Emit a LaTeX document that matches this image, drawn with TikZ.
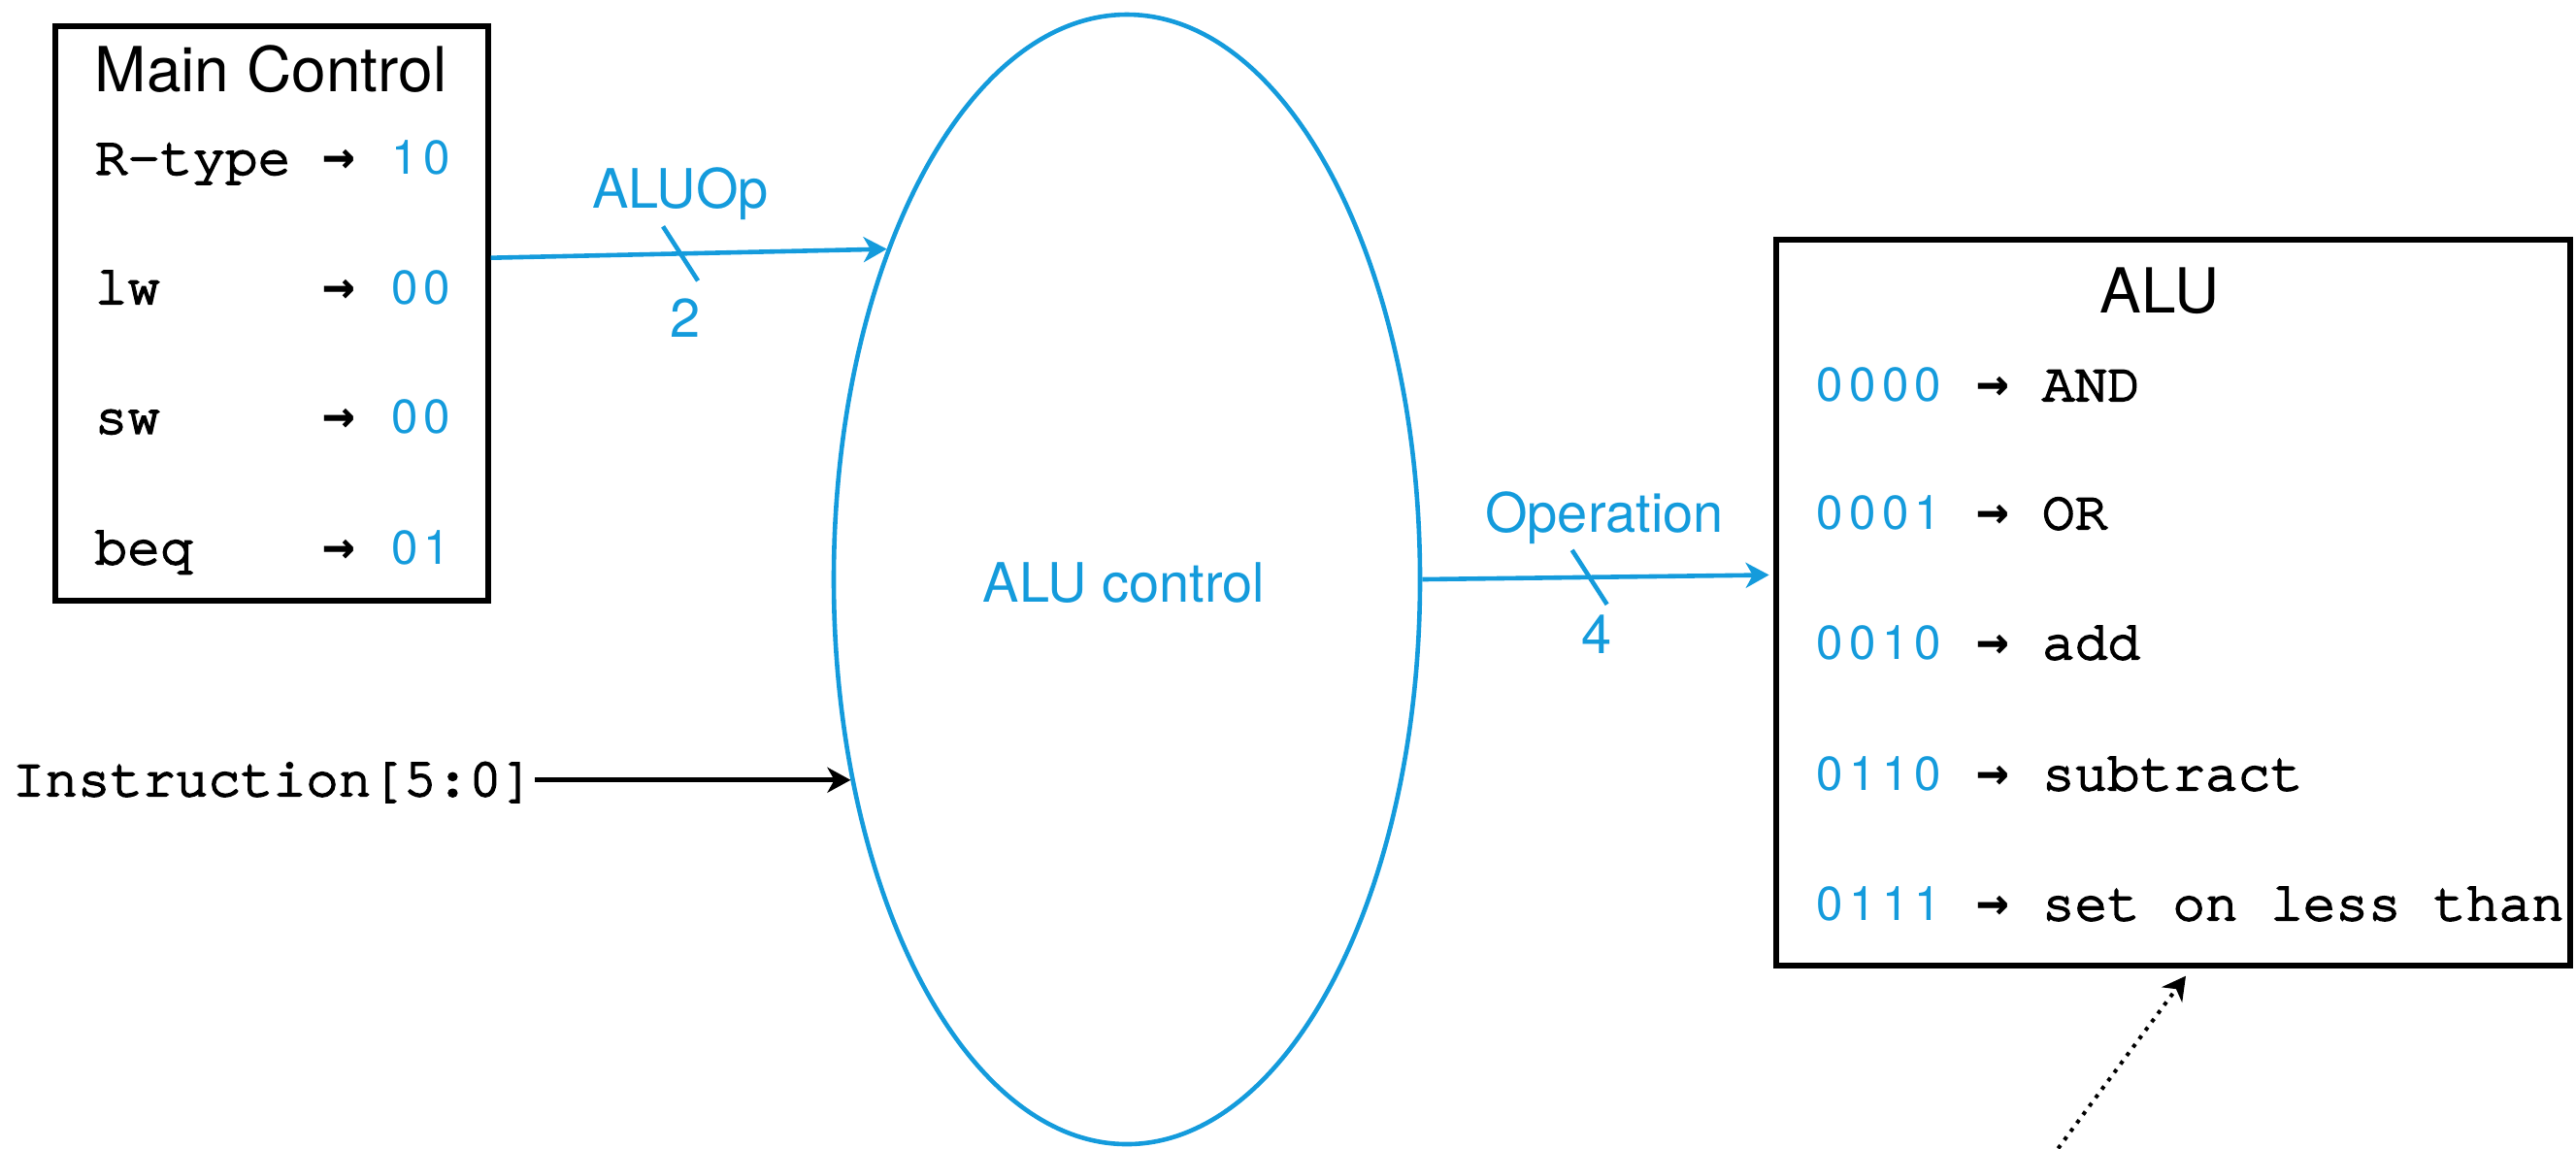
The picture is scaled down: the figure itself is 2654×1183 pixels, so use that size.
\documentclass[tikz,border=0pt]{standalone}
\usepackage{fontspec}
\setmainfont{TeX Gyre Heros}
\newfontfamily\monofont{TeX Gyre Cursor}[FakeBold=3.5]
\newfontfamily\arrowfont{DejaVu Sans Mono}
\usetikzlibrary{arrows.meta,shapes.geometric,calc}
\definecolor{cblue}{RGB}{20,155,220}
\newlength\cw
\setlength\cw{8.4pt}
\newcommand\bd[1]{\makebox[\cw][c]{\fontsize{12.3}{12}\selectfont\rmfamily\color{cblue}#1}}
\newcommand\rarr{\makebox[\cw][c]{\arrowfont\bfseries →}}
\begin{document}
\begin{tikzpicture}[x=0.25pt,y=-0.25pt,
  box/.style={draw=black, line width=1.3pt, inner sep=0pt},
  mono/.style={font=\monofont\fontsize{14}{16}\selectfont, inner sep=0pt, anchor=base west},
  lbl/.style={font=\fontsize{14}{16}\selectfont, text=cblue, inner sep=0pt, anchor=base},
  ttl/.style={font=\fontsize{16}{18}\selectfont, inner sep=0pt, anchor=base},
  tip/.style={-{Stealth[length=6pt,width=6.5pt,inset=1.8pt]}},
  bus/.style={draw=cblue, line width=1.15pt, tip},
  slash/.style={draw=cblue, line width=1.15pt},
  blk/.style={draw=black, line width=1.25pt, tip},
  dotline/.style={draw=black, line width=1pt, dash pattern=on 1pt off 1.7pt, tip}]
\useasboundingbox (0,0) rectangle (2654,1183);

% Main Control
\node[box, minimum width=111.5pt, minimum height=148pt] (mc) at (280,323) {};
\node[ttl] (mctitle) at (279,94.5) {Main Control};
\node[mono] (mc1) at (97,179.5) {\makebox[7\cw][l]{R-type}\rarr\hspace*{\cw}\bd{1}\bd{0}};
\node[mono] (mc2) at (97,313) {\makebox[7\cw][l]{lw}\rarr\hspace*{\cw}\bd{0}\bd{0}};
\node[mono] (mc3) at (97,446.5) {\makebox[7\cw][l]{sw}\rarr\hspace*{\cw}\bd{0}\bd{0}};
\node[mono] (mc4) at (97,581) {\makebox[7\cw][l]{beq}\rarr\hspace*{\cw}\bd{0}\bd{1}};

% ALU
\node[box, minimum width=204.5pt, minimum height=187pt] (alu) at (2239,621) {};
\node[ttl] (alutitle) at (2225,322) {ALU};
\node[mono] (alu1) at (1868,413) {\bd{0}\bd{0}\bd{0}\bd{0}\hspace*{\cw}\rarr\hspace*{\cw}AND};
\node[mono] (alu2) at (1868,545) {\bd{0}\bd{0}\bd{0}\bd{1}\hspace*{\cw}\rarr\hspace*{\cw}OR};
\node[mono] (alu3) at (1868,679) {\bd{0}\bd{0}\bd{1}\bd{0}\hspace*{\cw}\rarr\hspace*{\cw}add};
\node[mono] (alu4) at (1868,814) {\bd{0}\bd{1}\bd{1}\bd{0}\hspace*{\cw}\rarr\hspace*{\cw}subtract};
\node[mono] (alu5) at (1868,948) {\bd{0}\bd{1}\bd{1}\bd{1}\hspace*{\cw}\rarr\hspace*{\cw}set on less than};

% ALU control ellipse
\node[ellipse, draw=cblue, line width=1.15pt, inner sep=0pt, minimum width=151pt, minimum height=291pt] (ctrl) at (1161,597) {};
\node[lbl] (ctrllbl) at (1158,620) {ALU control};

% ALUOp bus
\coordinate (aS) at ($(mc.north east)!0.404!(mc.south east)$);
\draw[bus] (aS) -- coordinate[pos=0.479] (m1) (ctrl.126.76);
\draw[slash] ($(m1)+(-18,-28)$) -- ($(m1)+(18,28)$);
\node[lbl] (aluoplbl) at (701,214) {ALUOp};
\node[lbl] (twolbl) at (706,347) {2};

% Operation bus
\coordinate (oE) at ($(alu.north west)!0.462!(alu.south west)$);
\draw[bus, shorten >=1.2pt] (ctrl.0.5) -- coordinate[pos=0.476] (m2) (oE);
\draw[slash] ($(m2)+(-18,-28)$) -- ($(m2)+(18,28)$);
\node[lbl] (oplbl) at (1653,548) {Operation};
\node[lbl] (fourlbl) at (1645,673) {4};

% Instruction input
\node[mono] (instr) at (12,820) {Instruction[5:0]};
\coordinate (iE) at (ctrl.216.6);
\draw[blk] (instr.east |- iE) -- (iE);

% dotted arrow
\coordinate (dS) at (2114,1192);
\coordinate (dE) at ($(alu.south west)!0.523!(alu.south east)$);
\draw[dotline, shorten >=2.5pt] (dS) -- (dE);
\end{tikzpicture}
\end{document}
